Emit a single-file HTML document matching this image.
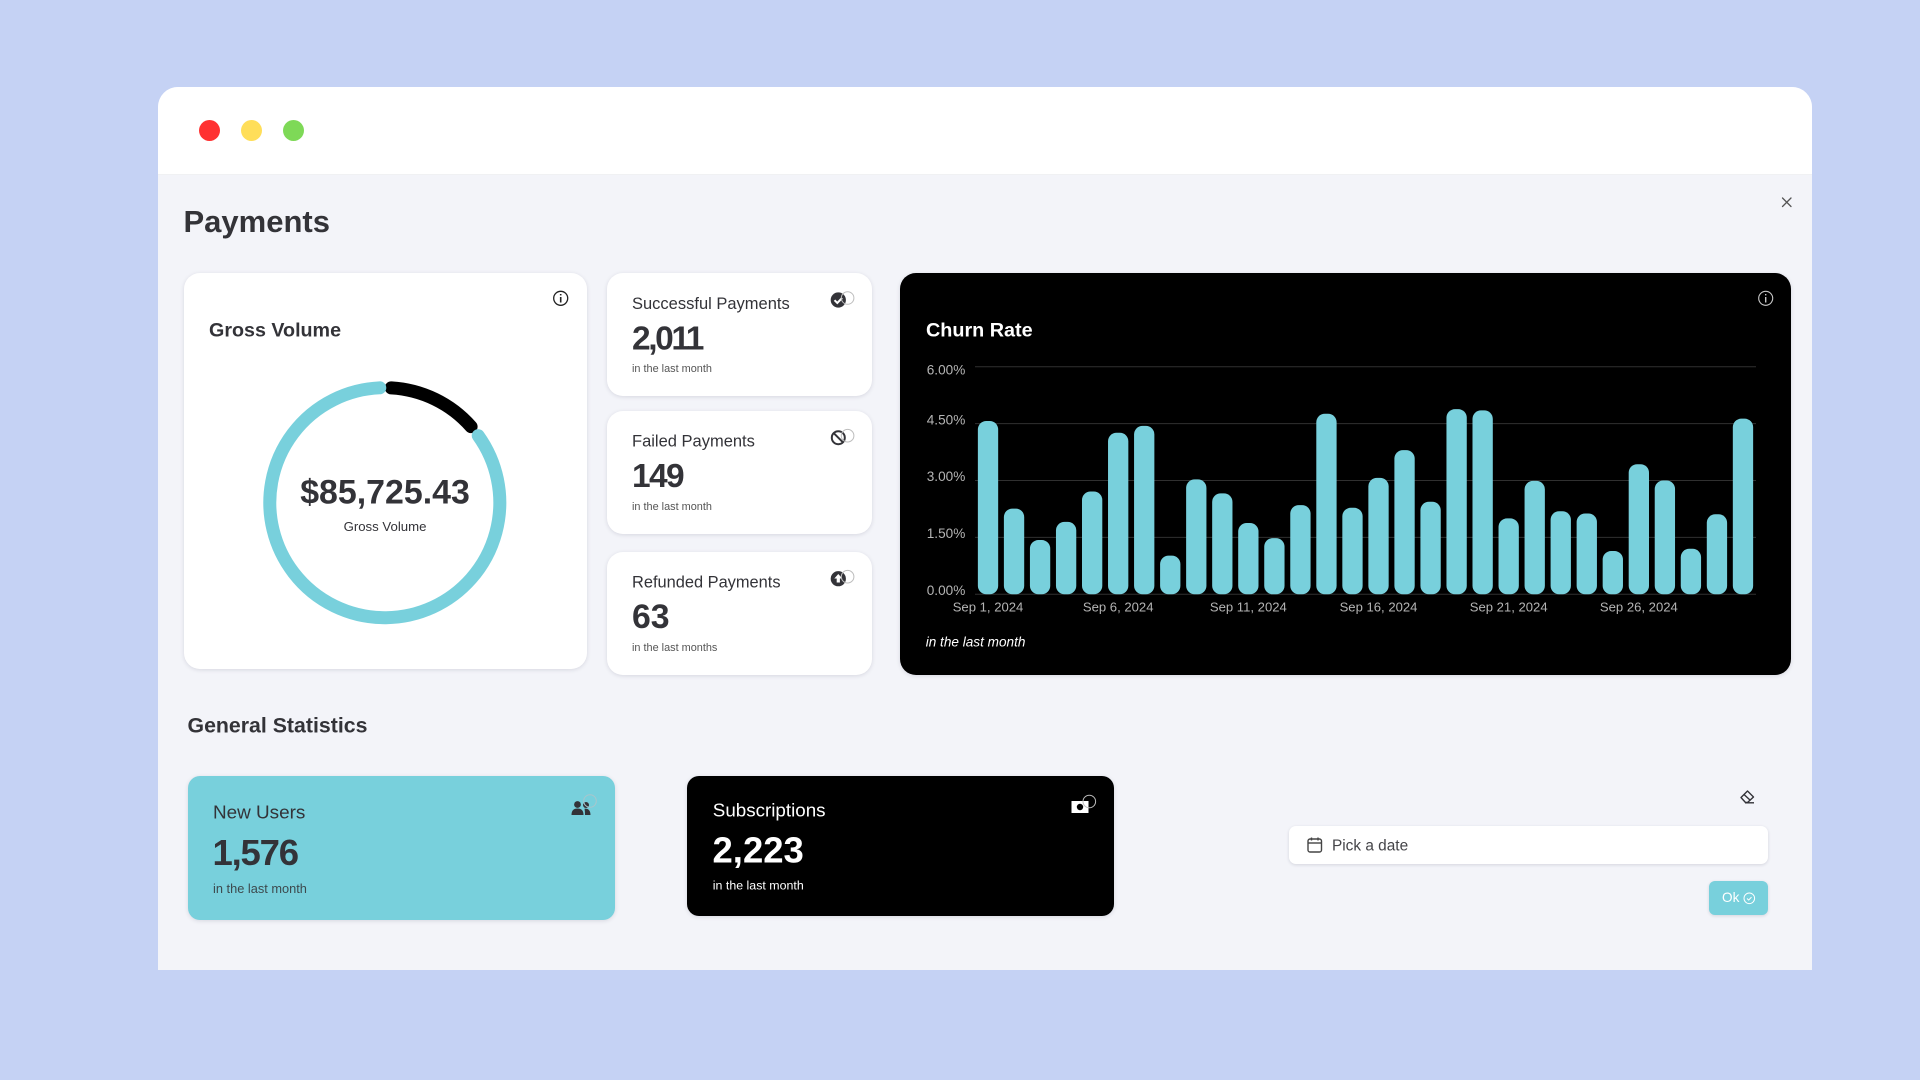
<!DOCTYPE html>
<html lang="en">
<head>
<meta charset="utf-8">
<title>Payments dashboard</title>
<style>
  html, body { margin: 0; padding: 0; width: 1920px; height: 1080px; overflow: hidden; background: #c5d2f4; }
  body { position: relative; font-family: "Liberation Sans", sans-serif; }
  .box { position: absolute; box-sizing: border-box; }
  .card { border-radius: 16px; background: #fff; box-shadow: 0 1px 4px rgba(30,30,60,.13); }
  .dot { position: absolute; width: 21px; height: 21px; border-radius: 50%; top: 120px; }
  svg#layer { position: absolute; left: 0; top: 0; width: 1920px; height: 1080px; }
  text { font-family: "Liberation Sans", sans-serif; }
  .dark { fill: #333338; }
</style>
</head>
<body>
  <div class="box" style="left:158px;top:87px;width:1654px;height:883px;background:#f3f4f9;border-radius:20px 20px 0 0;overflow:hidden;">
    <div style="height:87px;background:#fff;border-bottom:1px solid #f0f1f3;"></div>
  </div>
  <div class="dot" style="left:199px;background:#ff3131;"></div>
  <div class="dot" style="left:241px;background:#ffde59;"></div>
  <div class="dot" style="left:283px;background:#7ed957;"></div>

  <div class="box card" style="left:183.500px;top:273px;width:403px;height:396px;"></div>
  <div class="box card" style="left:606.500px;top:273px;width:265.500px;height:123px;"></div>
  <div class="box card" style="left:606.500px;top:411px;width:265.500px;height:123px;"></div>
  <div class="box card" style="left:606.500px;top:552px;width:265.500px;height:123px;"></div>
  <div class="box card" style="left:900px;top:273px;width:891px;height:402px;background:#000;"></div>
  <div class="box card" style="left:188px;top:776px;width:427px;height:144px;background:#78d0dc;border-radius:12px;"></div>
  <div class="box card" style="left:687px;top:776px;width:427px;height:140px;background:#000;border-radius:12px;"></div>
  <div class="box" style="left:1289px;top:826px;width:479px;height:38px;background:#fff;border-radius:7px;box-shadow:0 1px 3px rgba(30,30,60,.14);"></div>
  <div class="box" style="left:1709px;top:881px;width:59px;height:34px;background:#78d0dc;border-radius:6px;box-shadow:0 1px 3px rgba(30,30,60,.14);"></div>

  <svg id="layer" viewBox="0 0 1920 1080" xmlns="http://www.w3.org/2000/svg">
    <text class="dark" x="183.500" y="232" font-size="31" font-weight="700">Payments</text>
    <g stroke="#555" stroke-width="1.3" stroke-linecap="round">
      <line x1="1782.500" y1="198" x2="1791" y2="206.500"/><line x1="1791" y1="198" x2="1782.500" y2="206.500"/>
    </g>

    <!-- Gross Volume -->
    <text class="dark" x="209" y="336.700" font-size="19.700" font-weight="700">Gross Volume</text>
    <g stroke="#222" fill="none" stroke-width="1.3">
      <circle cx="560.700" cy="298.300" r="7"/><line x1="560.700" y1="297" x2="560.700" y2="302.500" stroke-width="1.600"/><line x1="560.700" y1="294" x2="560.700" y2="295.400" stroke-width="1.600"/>
    </g>
    <g id="donut"></g>
    <text class="dark" x="385" y="503.300" font-size="33.900" font-weight="700" text-anchor="middle">$85,725.43</text>
    <text class="dark" x="385" y="531" font-size="13.200" text-anchor="middle">Gross Volume</text>

    <!-- Successful -->
    <text class="dark" x="632" y="308.800" font-size="16.500">Successful Payments</text>
    <text class="dark" x="632" y="349.500" font-size="33.500" font-weight="700" letter-spacing="-2.400">2,011</text>
    <text x="632" y="372" font-size="10.900" fill="#555">in the last month</text>
    <g>
      <circle cx="838.300" cy="300" r="7.600" fill="#333338"/>
      <path d="M834.500 300.200l2.800 2.800 4.800-5" fill="none" stroke="#fff" stroke-width="2"/>
      <circle cx="847.600" cy="298" r="6.300" fill="none" stroke="#bdbdbd" stroke-width="1"/>
    </g>

    <!-- Failed -->
    <text class="dark" x="632" y="446.400" font-size="16.500">Failed Payments</text>
    <text class="dark" x="632" y="487" font-size="33.500" font-weight="700" letter-spacing="-1.600">149</text>
    <text x="632" y="510" font-size="10.900" fill="#555">in the last month</text>
    <g>
      <circle cx="838.300" cy="437.700" r="6.500" fill="none" stroke="#333338" stroke-width="2"/>
      <line x1="833.800" y1="433.200" x2="842.800" y2="442.200" stroke="#333338" stroke-width="2"/>
      <circle cx="847.600" cy="435.700" r="6.300" fill="none" stroke="#bdbdbd" stroke-width="1"/>
    </g>

    <!-- Refunded -->
    <text class="dark" x="632" y="587.500" font-size="16.400">Refunded Payments</text>
    <text class="dark" x="632" y="628" font-size="33.800" font-weight="700">63</text>
    <text x="632" y="651" font-size="10.900" fill="#555">in the last months</text>
    <g>
      <circle cx="838.300" cy="578.700" r="7.600" fill="#333338"/>
      <path d="M838.300 574l-4 4.500h2.400v4h3.200v-4h2.400z" fill="#fff"/>
      <circle cx="847.600" cy="576.700" r="6.300" fill="none" stroke="#bdbdbd" stroke-width="1"/>
    </g>

    <!-- Churn -->
    <text x="926" y="336.700" font-size="19.800" font-weight="700" fill="#fff">Churn Rate</text>
    <g stroke="#c8c8c8" fill="none" stroke-width="1.100">
      <circle cx="1765.700" cy="298.300" r="7"/><line x1="1765.700" y1="297" x2="1765.700" y2="302.500" stroke-width="1.400"/><line x1="1765.700" y1="294" x2="1765.700" y2="295.400" stroke-width="1.400"/>
    </g>
    <g id="chart"></g>
    <text x="925.700" y="646.300" font-size="13.600" font-style="italic" fill="#fff">in the last month</text>

    <!-- General statistics -->
    <text class="dark" x="187.500" y="732.300" font-size="21.300" font-weight="700">General Statistics</text>

    <text class="dark" x="213" y="818.300" font-size="18.900">New Users</text>
    <text class="dark" x="212.500" y="865" font-size="36.500" font-weight="700" letter-spacing="-1.200">1,576</text>
    <text x="213" y="893" font-size="12.800" fill="#3d4a4e">in the last month</text>
    <g fill="#333338">
      <circle cx="577.500" cy="804.500" r="3.400"/><path d="M571.500 815c0-4.500 2-6.500 6-6.500s6 2 6 6.500z"/>
      <circle cx="586" cy="805" r="3"/><path d="M584.500 808.700c3.500-.5 6 1.500 6 6.300h-5.500c0-2.500-.2-4.500-.5-6.300z"/>
      <circle cx="590" cy="801" r="6.300" fill="none" stroke="#a9c6cc" stroke-width="1"/>
    </g>

    <text x="712.800" y="816.300" font-size="18.800" fill="#fff">Subscriptions</text>
    <text x="712.500" y="862.300" font-size="36.500" font-weight="700" fill="#fff">2,223</text>
    <text x="712.800" y="889.300" font-size="12.400" fill="#fff">in the last month</text>
    <g>
      <rect x="1071.500" y="801" width="17" height="12" fill="#fff"/>
      <circle cx="1080" cy="807" r="3.200" fill="#000"/>
      <circle cx="1089.300" cy="801.500" r="6.300" fill="none" stroke="#bdbdbd" stroke-width="1"/>
    </g>

    <!-- Date controls -->
    <g fill="none" stroke="#333338" stroke-width="1.400" stroke-linejoin="round">
      <path d="M1741 797.500l6.500-6.500 6 6-6 5.500h-2z"/><line x1="1744" y1="794.500" x2="1750.500" y2="800.500"/><line x1="1745" y1="802.800" x2="1754" y2="802.800"/>
    </g>
    <g fill="none" stroke="#444" stroke-width="1.400">
      <rect x="1308" y="839" width="13.500" height="13" rx="2"/><line x1="1308" y1="843" x2="1321.500" y2="843"/><line x1="1311.500" y1="837.500" x2="1311.500" y2="840.500"/><line x1="1318" y1="837.500" x2="1318" y2="840.500"/>
    </g>
    <text x="1332" y="850.700" font-size="15.400" fill="#444448">Pick a date</text>
    <text x="1722" y="902" font-size="13.600" fill="#fff">Ok</text>
    <g fill="none" stroke="#fff" stroke-width="1">
      <circle cx="1749.300" cy="898.300" r="5.300"/><path d="M1747 898.500l1.700 1.600 2.800-3"/>
    </g>
  </svg>

<script>
// Donut data
const donutLabels = ['Refunds', 'Net volume'];
const donutValues = [14.2, 85.8];
const donutColors = ['#000000', '#78d0dc'];

// Churn chart data
const categories = ['Sep 1, 2024','Sep 2, 2024','Sep 3, 2024','Sep 4, 2024','Sep 5, 2024','Sep 6, 2024','Sep 7, 2024','Sep 8, 2024','Sep 9, 2024','Sep 10, 2024','Sep 11, 2024','Sep 12, 2024','Sep 13, 2024','Sep 14, 2024','Sep 15, 2024','Sep 16, 2024','Sep 17, 2024','Sep 18, 2024','Sep 19, 2024','Sep 20, 2024','Sep 21, 2024','Sep 22, 2024','Sep 23, 2024','Sep 24, 2024','Sep 25, 2024','Sep 26, 2024','Sep 27, 2024','Sep 28, 2024','Sep 29, 2024','Sep 30, 2024'];
const churnValues = [4.57,2.26,1.43,1.91,2.71,4.26,4.44,1.02,3.03,2.66,1.88,1.48,2.35,4.76,2.28,3.07,3.80,2.44,4.88,4.85,2.00,2.99,2.19,2.13,1.14,3.43,3.00,1.20,2.11,4.63];
const yTicks = [0, 1.5, 3, 4.5, 6];
const yTickLabels = ['0.00%', '1.50%', '3.00%', '4.50%', '6.00%'];
const xTickLabels = ['Sep 1, 2024', 'Sep 6, 2024', 'Sep 11, 2024', 'Sep 16, 2024', 'Sep 21, 2024', 'Sep 26, 2024'];

const NS = 'http://www.w3.org/2000/svg';
function make(tag, attrs, parent) {
  const el = document.createElementNS(NS, tag);
  for (const k in attrs) el.setAttribute(k, attrs[k]);
  parent.appendChild(el);
  return el;
}

// Axis functions
const plot = { left: 975, right: 1756, top: 366.7, bottom: 594.3 };
const yMax = yTicks[yTicks.length - 1];
function yScale(v) { return plot.bottom - (v / yMax) * (plot.bottom - plot.top); }
const band = (plot.right - plot.left) / categories.length;
function xCenter(i) { return plot.left + band * (i + 0.5); }
const barWidth = band * 0.78;

const chart = document.getElementById('chart');
yTicks.forEach(function (t, i) {
  const line = make('line', { x1: plot.left, x2: plot.right, y1: yScale(t), y2: yScale(t), stroke: '#303030', 'stroke-width': 1 }, chart);
  
  
  const baseline = t === yMax ? yScale(t) + 8 : yScale(t) + 0.7;
  const label = make('text', { x: 965.3, y: baseline, 'text-anchor': 'end', 'font-size': 13.6, fill: '#b4b4b4' }, chart);
  label.textContent = yTickLabels[i];
  
  
});
churnValues.forEach(function (v, i) {
  const top = yScale(v);
  const bar = make('rect', { x: xCenter(i) - barWidth / 2, y: top, width: barWidth, height: plot.bottom - top, rx: 8.5, ry: 8.5, fill: '#78d0dc' }, chart);
  
  
});
xTickLabels.forEach(function (lab) {
  const idx = categories.indexOf(lab);
  const label = make('text', { x: xCenter(idx), y: 611.4, 'text-anchor': 'middle', 'font-size': 13.1, fill: '#b4b4b4' }, chart);
  label.textContent = lab;
  
  
});

// Donut
const donut = document.getElementById('donut');
const cx = 384.8, cy = 502.7, radius = 115, gapDeg = 5.7, startDeg = 0.35;
const totalValue = donutValues.reduce(function (a, b) { return a + b; }, 0);
function polar(deg) {
  const r = deg * Math.PI / 180;
  return [cx + radius * Math.sin(r), cy - radius * Math.cos(r)];
}
let cursor = startDeg;
donutValues.forEach(function (v, i) {
  const span = v / totalValue * 360;
  const a0 = cursor + gapDeg / 2, a1 = cursor + span - gapDeg / 2;
  const p0 = polar(a0), p1 = polar(a1);
  const large = a1 - a0 > 180 ? 1 : 0;
  const arc = make('path', {
    d: 'M' + p0[0] + ' ' + p0[1] + 'A' + radius + ' ' + radius + ' 0 ' + large + ' 1 ' + p1[0] + ' ' + p1[1],
    fill: 'none', stroke: donutColors[i], 'stroke-width': 13, 'stroke-linecap': 'round'
  }, donut);
  
  
  cursor += span;
});
</script>
</body>
</html>
